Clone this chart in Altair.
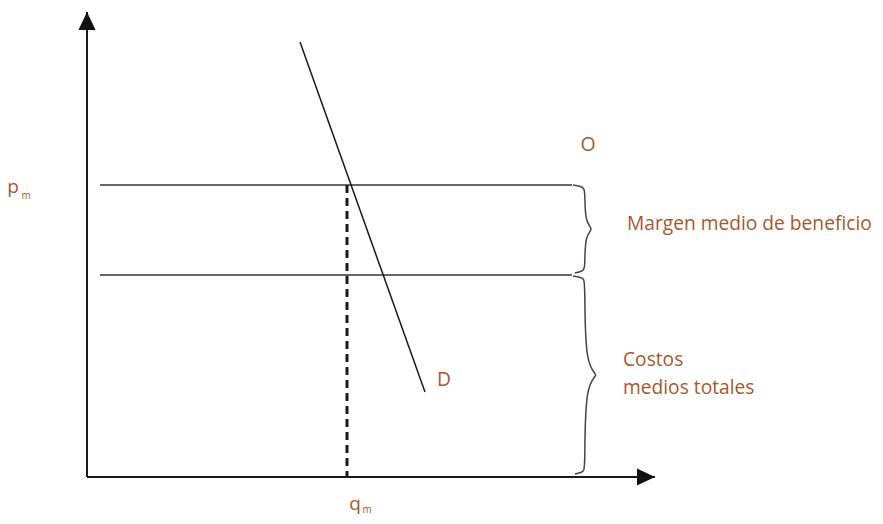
import altair as alt
import pandas as pd

# ---- schematic values (chart units: q horizontal, p vertical) ----
X_END = 568          # end of quantity axis
Y_END = 465          # end of price axis
P_M = 292            # market price p_m
CME = 202            # average total cost level
Q_M = 260            # quantity q_m
LINE_FROM, LINE_TO = 13, 485   # horizontal extent of price / cost lines
demand_q = [213, 338]
demand_p = [435, 85]

label_text = ["O", "D", "Margen medio de beneficio", "Costos", "medios totales"]
label_q = [501, 350, 540, 536, 536]
label_p = [332, 97, 253, 117, 89]
label_align = ["center", "left", "left", "left", "left"]

sub_text = ["p", "m", "q", "m"]
sub_q = [-74, -61, 268, 280]
sub_p = [290, 281, -27, -33]
sub_size = [19, 10, 19, 10]

BRACE_X = 486
BROWN = "#a8572b"
FONT = "Open Sans"

xs = alt.Scale(domain=[-79, 788], nice=False, zero=False)
ys = alt.Scale(domain=[-39, 469], nice=False, zero=False)
X = lambda f: alt.X(f, type="quantitative", scale=xs, axis=None)
Y = lambda f: alt.Y(f, type="quantitative", scale=ys, axis=None)


def brace(x0, top, bottom, tip):
    mid = (top + bottom) / 2
    spine = x0 + 12
    return [
        (x0, top), (x0 + 7, top - 1), (spine - 1, top - 3), (spine, top - 8),
        (spine, mid + 6), (spine + tip, mid), (spine, mid - 6),
        (spine, bottom + 8), (spine - 1, bottom + 3), (x0 + 7, bottom + 1), (x0 + 2, bottom),
    ]


brace_rows = []
for bid, (top, bottom, tip) in enumerate([(P_M, CME + 2, 9), (CME - 1, 3, 16)]):
    for i, (q, p) in enumerate(brace(BRACE_X, top, bottom, tip)):
        brace_rows.append({"b": bid, "i": i, "q": q, "p": p})
braces_df = pd.DataFrame(brace_rows)

axes_df = pd.DataFrame({"q": [0, 0], "p": [0, 0], "q2": [X_END, 0], "p2": [0, Y_END]})
hlines_df = pd.DataFrame({"q": [LINE_FROM] * 2, "q2": [LINE_TO] * 2, "p": [P_M, CME]})
dash_df = pd.DataFrame({"q": [Q_M], "p": [P_M], "p2": [0]})
demand_df = pd.DataFrame({"q": demand_q, "p": demand_p})
arrow_right = pd.DataFrame({"q": [X_END], "p": [0]})
arrow_up = pd.DataFrame({"q": [0], "p": [Y_END]})
labels_df = pd.DataFrame({"t": label_text, "q": label_q, "p": label_p, "a": label_align})
subs_df = pd.DataFrame({"t": sub_text, "q": sub_q, "p": sub_p, "s": sub_size})

axes = alt.Chart(axes_df).mark_rule(color="#1a1a1a", strokeWidth=2).encode(
    x=X("q"), y=Y("p"), x2="q2", y2="p2")
hlines = alt.Chart(hlines_df).mark_rule(color="#333333", strokeWidth=1.5).encode(
    x=X("q"), x2="q2", y=Y("p"))
dash = alt.Chart(dash_df).mark_rule(color="#1a1a1a", strokeWidth=3, strokeDash=[8, 5]).encode(
    x=X("q"), y=Y("p"), y2="p2")
demand = alt.Chart(demand_df).mark_line(color="#1a1a1a", strokeWidth=1.5).encode(
    x=X("q"), y=Y("p"))
braces = alt.Chart(braces_df).mark_line(color="#444444", strokeWidth=1.5, interpolate="basis").encode(
    x=X("q"), y=Y("p"), detail="b:N", order="i:Q")
arr_r = alt.Chart(arrow_right).mark_point(
    shape="M-2,-0.95L0,0L-2,0.95Z", filled=True, size=324, color="#111111", opacity=1, strokeWidth=0
).encode(x=X("q"), y=Y("p"))
arr_u = alt.Chart(arrow_up).mark_point(
    shape="M-0.95,2L0,0L0.95,2Z", filled=True, size=324, color="#111111", opacity=1, strokeWidth=0
).encode(x=X("q"), y=Y("p"))
labels_c = alt.Chart(labels_df).transform_filter(alt.datum.a == "center").mark_text(
    font=FONT, fontSize=19.5, color=BROWN, baseline="middle", align="center"
).encode(x=X("q"), y=Y("p"), text="t:N")
labels_l = alt.Chart(labels_df).transform_filter(alt.datum.a == "left").mark_text(
    font=FONT, fontSize=19.2, color=BROWN, baseline="middle", align="left"
).encode(x=X("q"), y=Y("p"), text="t:N")
subs = alt.Chart(subs_df).mark_text(
    font=FONT, color=BROWN, baseline="middle", align="center"
).encode(x=X("q"), y=Y("p"), text="t:N", size=alt.Size("s:Q", scale=None, legend=None))

chart = alt.layer(axes, hlines, dash, demand, braces, arr_r, arr_u, labels_c, labels_l, subs).properties(
    width=867, height=508, padding=0, autosize=alt.AutoSizeParams(type="none")
).configure_view(stroke=None)

chart.save("out.html", embed_options={"renderer": "svg", "actions": False})
